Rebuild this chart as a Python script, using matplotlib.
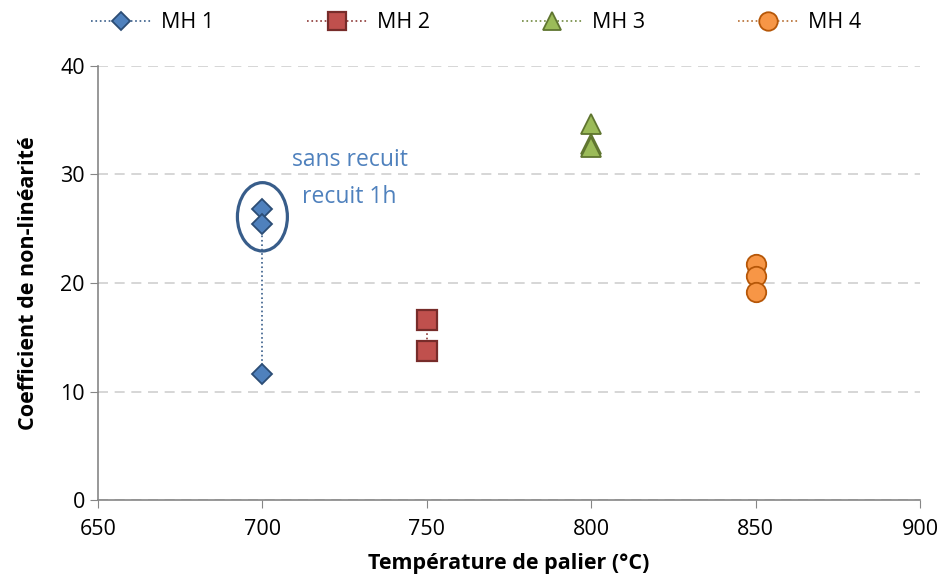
import matplotlib
matplotlib.use('Agg')
import matplotlib.pyplot as plt
from matplotlib.patches import Ellipse

plt.rcParams['font.family'] = ['Open Sans', 'DejaVu Sans']

# data
x_mh1 = [700, 700, 700]
y_mh1 = [26.8, 25.4, 11.6]
x_mh2 = [750, 750]
y_mh2 = [16.6, 13.7]
x_mh3 = [800, 800, 800]
y_mh3 = [34.7, 32.8, 32.5]
x_mh4 = [850, 850, 850]
y_mh4 = [21.75, 20.6, 19.2]

x_ticks = [650, 700, 750, 800, 850, 900]
y_ticks = [0, 10, 20, 30, 40]

fig = plt.figure(figsize=(9.43, 5.78), dpi=100)
ax = fig.add_axes([98/943, 1 - 500/578, (920-98)/943, (500-66)/578])

ax.plot(x_mh1, y_mh1, ':', color='#385D8A', lw=1.2, marker='D', ms=10,
        mfc='#4F81BD', mec='#2C4D75', mew=1.3, label='MH 1', zorder=3)
ax.plot(x_mh2, y_mh2, ':', color='#8C3836', lw=1.2, marker='s', ms=14,
        mfc='#C0504D', mec='#772C2A', mew=1.6, label='MH 2', zorder=3)
ax.plot(x_mh3, y_mh3, ':', color='#71893F', lw=1.2, marker='^', ms=14,
        mfc='#9BBB59', mec='#5F7530', mew=1.3, label='MH 3', zorder=3)
ax.plot(x_mh4, y_mh4, ':', color='#B66D31', lw=1.2, marker='o', ms=14,
        mfc='#F79646', mec='#B65708', mew=1.3, label='MH 4', zorder=3)

ax.add_patch(Ellipse((700, 26.1), 15.2, 6.3, fill=False, ec='#385D8A',
                     lw=2.3, zorder=4))
ax.text(726.6, 31.3, 'sans recuit', color='#4F81BD', fontsize=16.5,
        ha='center', va='center')
ax.text(726.5, 27.9, 'recuit 1h', color='#4F81BD', fontsize=16.5,
        ha='center', va='center')

ax.set_xlim(650, 900)
ax.set_ylim(0, 40)
ax.set_xticks(x_ticks)
ax.set_yticks(y_ticks)
ax.tick_params(labelsize=15.5, length=6, color='#868686', direction='out')
ax.tick_params(axis='x', pad=8)
ax.yaxis.grid(True, ls=(0, (6, 4)), color='#D0D0D0', lw=1.2)
ax.set_axisbelow(True)
for s in ['top', 'right']:
    ax.spines[s].set_visible(False)
for s in ['left', 'bottom']:
    ax.spines[s].set_color('#868686')
    ax.spines[s].set_linewidth(1.2)

ax.set_xlabel('Température de palier (°C)', fontsize=15.5, fontweight='bold')
ax.set_ylabel('Coefficient de non-linéarité', fontsize=15.5, fontweight='bold')
ax.xaxis.set_label_coords((509 - 98) / 822, -(553 - 500) / 434)
ax.yaxis.set_label_coords(-(98 - 39) / 822, 0.5)

fig.legend(handles=ax.get_lines(), loc='center', bbox_to_anchor=(476/943, 1 - 23/578),
           ncol=4, frameon=False, fontsize=15.5, handlelength=2.8,
           handletextpad=0.45, columnspacing=4.3, markerscale=0.95)

fig.savefig('out.png', dpi=100)
